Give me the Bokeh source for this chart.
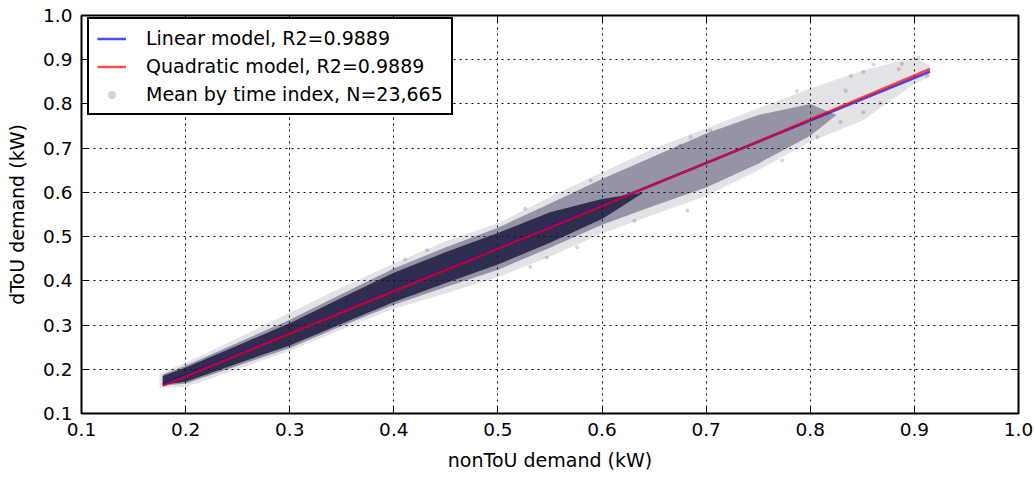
from bokeh.plotting import figure
from bokeh.models import Legend, LegendItem, LinearAxis, FixedTicker
from bokeh.embed import file_html
from bokeh.resources import INLINE

# ---- data ----
ticks = [0.1, 0.2, 0.3, 0.4, 0.5, 0.6, 0.7, 0.8, 0.9, 1.0]
tick_labels = ["0.1", "0.2", "0.3", "0.4", "0.5", "0.6", "0.7", "0.8", "0.9", "1.0"]

# fitted models (line end points / sample points)
lin_x = [0.178, 0.915]
lin_y = [0.165, 0.873]
quad_x = [0.178, 0.35, 0.55, 0.75, 0.915]
quad_y = [0.163, 0.329, 0.521, 0.715, 0.879]

# envelope of the scatter cloud (faint outer extent)
outer_x = [0.175, 0.2, 0.25, 0.3, 0.35, 0.4, 0.45, 0.5, 0.55, 0.6, 0.65, 0.7, 0.75, 0.8, 0.85, 0.9, 0.915]
outer_lo = [0.158, 0.160, 0.200, 0.242, 0.290, 0.337, 0.372, 0.408, 0.455, 0.507, 0.550, 0.592, 0.650, 0.715, 0.762, 0.845, 0.862]
outer_hi = [0.190, 0.215, 0.270, 0.328, 0.385, 0.439, 0.490, 0.530, 0.590, 0.645, 0.700, 0.745, 0.790, 0.835, 0.875, 0.905, 0.885]

# denser part of the cloud
inner_x = [0.178, 0.2, 0.25, 0.3, 0.35, 0.4, 0.45, 0.5, 0.55, 0.6, 0.65, 0.7, 0.75, 0.8, 0.825]
inner_lo = [0.163, 0.168, 0.208, 0.248, 0.298, 0.346, 0.386, 0.425, 0.475, 0.527, 0.570, 0.611, 0.665, 0.728, 0.775]
inner_hi = [0.188, 0.208, 0.260, 0.312, 0.370, 0.428, 0.476, 0.520, 0.575, 0.630, 0.682, 0.733, 0.775, 0.800, 0.775]

# darkest core of the cloud
core_x = [0.178, 0.2, 0.25, 0.3, 0.35, 0.4, 0.45, 0.5, 0.55, 0.6, 0.64]
core_lo = [0.165, 0.172, 0.213, 0.254, 0.303, 0.352, 0.395, 0.437, 0.486, 0.540, 0.600]
core_hi = [0.185, 0.204, 0.254, 0.304, 0.362, 0.418, 0.465, 0.508, 0.555, 0.585, 0.600]

# individual sparse points visible at the cloud edges
pts_x = [0.904, 0.861, 0.851, 0.885, 0.787, 0.834, 0.851, 0.867, 0.829, 0.807, 0.888, 0.912,
         0.839, 0.773, 0.704, 0.675, 0.631, 0.682, 0.685, 0.589, 0.576, 0.547, 0.526,
         0.411, 0.432, 0.531, 0.355]
pts_y = [0.904, 0.889, 0.872, 0.879, 0.829, 0.830, 0.781, 0.802, 0.759, 0.725, 0.891, 0.864,
         0.864, 0.672, 0.740, 0.706, 0.536, 0.559, 0.725, 0.627, 0.476, 0.453, 0.563,
         0.448, 0.469, 0.431, 0.356]

FONT = "DejaVu Sans"
CLOUD = "#14143a"

p = figure(width=1035, height=479, x_range=(0.1, 1.0), y_range=(0.1, 1.0),
           output_backend="svg", toolbar_location=None,
           min_border_left=81, min_border_right=17, min_border_top=15, min_border_bottom=66,
           background_fill_color="white", border_fill_color="white")

# cloud
p.varea(x=outer_x, y1=outer_lo, y2=outer_hi, fill_color=CLOUD, fill_alpha=0.12)
p.varea(x=inner_x, y1=inner_lo, y2=inner_hi, fill_color=CLOUD, fill_alpha=0.38)
p.varea(x=core_x, y1=core_lo, y2=core_hi, fill_color=CLOUD, fill_alpha=0.8)
sc = p.scatter(x=pts_x, y=pts_y, size=4, fill_color=CLOUD, fill_alpha=0.18, line_color=None)

lin = p.line(x=lin_x, y=lin_y, line_color="blue", line_alpha=0.7, line_width=2.5)
quad = p.line(x=quad_x, y=quad_y, line_color="red", line_alpha=0.7, line_width=2.5)

# axes
overrides = {t: l for t, l in zip(ticks, tick_labels)}
for ax in (p.xaxis[0], p.yaxis[0]):
    ax.ticker = FixedTicker(ticks=ticks)
    ax.major_label_overrides = overrides
    ax.major_tick_in = 7
    ax.major_tick_out = 0
    ax.minor_tick_line_color = None
    ax.axis_line_color = None
    ax.major_tick_line_color = "black"
    ax.major_tick_line_width = 1
    ax.major_label_text_font = FONT
    ax.major_label_text_font_size = "18.5px"
    ax.major_label_text_color = "black"
    ax.axis_label_text_font = FONT
    ax.axis_label_text_font_size = "19px"
    ax.axis_label_text_font_style = "normal"
    ax.axis_label_text_color = "black"
    ax.major_label_standoff = 9

p.xaxis[0].axis_label = "nonToU demand (kW)"
p.yaxis[0].axis_label = "dToU demand (kW)"
p.xaxis[0].axis_label_standoff = 10
p.yaxis[0].axis_label_standoff = 12

# tick marks (no labels) on the top and right spines
for side in ("above", "right"):
    ax = LinearAxis(ticker=FixedTicker(ticks=ticks))
    ax.major_tick_in = 7
    ax.major_tick_out = 0
    ax.minor_tick_line_color = None
    ax.axis_line_color = None
    ax.major_label_text_font_size = "1px"
    ax.major_label_text_alpha = 0
    ax.major_label_standoff = 0
    p.add_layout(ax, side)

# grid
for g in (p.xgrid[0], p.ygrid[0]):
    g.ticker = FixedTicker(ticks=ticks)
    g.grid_line_color = "black"
    g.grid_line_dash = "2 4"
    g.grid_line_width = 1
    g.grid_line_alpha = 1

p.outline_line_color = "black"
p.outline_line_width = 2
p.outline_line_alpha = 1

legend = Legend(items=[
    LegendItem(label="Linear model, R2=0.9889", renderers=[lin]),
    LegendItem(label="Quadratic model, R2=0.9889", renderers=[quad]),
    LegendItem(label="Mean by time index, N=23,665", renderers=[sc]),
], location=(6, 298))
legend.label_text_font = FONT
legend.label_text_font_size = "19px"
legend.label_text_color = "black"
legend.border_line_color = "black"
legend.border_line_width = 2
legend.border_line_alpha = 1
legend.background_fill_color = "white"
legend.background_fill_alpha = 1
legend.glyph_width = 29
legend.glyph_height = 21
legend.label_height = 21
legend.label_standoff = 20
legend.padding = 8
legend.spacing = 6
legend.margin = 0
p.add_layout(legend)

open("out.html", "w").write(file_html(p, INLINE))
